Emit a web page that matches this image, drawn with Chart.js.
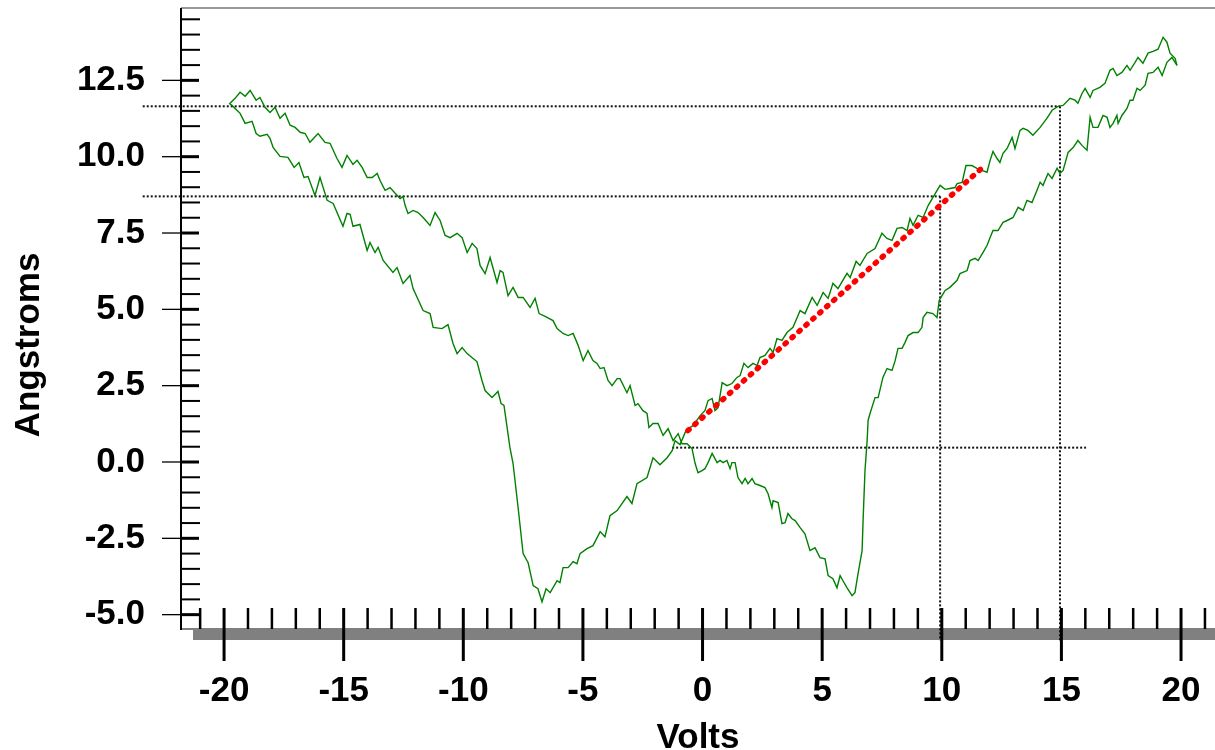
<!DOCTYPE html>
<html>
<head>
<meta charset="utf-8">
<script src="https://cdn.jsdelivr.net/npm/chart.js@4.4.1/dist/chart.umd.min.js"></script>
<style>
  html, body { margin: 0; padding: 0; background: #fff; }
  #wrap { width: 1215px; height: 750px; }
</style>
</head>
<body>
<div id="wrap"><canvas id="chart"></canvas></div>
<script>
// sweep -20 V -> +20 V
const upV = [-19.79,-19.67,-19.33,-19.12,-18.83,-18.66,-18.50,-18.20,-18.08,-17.95,
  -17.66,-17.33,-17.07,-16.87,-16.66,-16.49,-16.20,-15.99,-15.69,-15.44,
  -15.03,-14.86,-14.73,-14.61,-14.32,-14.02,-13.90,-13.69,-13.56,-13.35,
  -12.94,-12.77,-12.52,-12.23,-12.10,-11.68,-11.39,-11.26,-10.89,-10.64,
  -10.43,-10.26,-10.05,-9.84,-9.59,-9.43,-9.22,-9.09,-8.80,-8.55,
  -8.42,-8.30,-8.05,-7.92,-7.71,-7.50,-7.29,-7.08,-6.88,-6.71,
  -6.54,-6.37,-6.08,-5.96,-5.83,-5.62,-5.41,-5.25,-5.12,-4.83,
  -4.58,-4.28,-4.08,-3.87,-3.57,-3.16,-2.95,-2.74,-2.32,-2.07,
  -1.78,-1.48,-1.27,-1.15,-0.94,-0.73,-0.61,-0.40,-0.10,0.10,
  0.23,0.40,0.52,0.65,0.82,1.02,1.23,1.44,1.57,1.73,
  1.90,2.11,2.28,2.40,2.61,2.82,2.95,3.11,3.32,3.53,
  3.78,4.08,4.28,4.58,4.79,5.04,5.25,5.45,5.66,6.04,
  6.17,6.42,6.58,6.88,7.21,7.50,7.71,7.92,8.13,8.34,
  8.55,8.67,8.80,9.01,9.22,9.43,9.63,9.93,10.14,10.34,
  10.55,10.64,10.85,11.01,11.26,11.47,11.68,11.89,12.02,12.14,
  12.31,12.43,12.56,12.73,12.94,13.06,13.27,13.40,13.60,13.81,
  14.11,14.40,14.61,14.86,15.07,15.36,15.57,15.69,15.86,15.99,
  16.20,16.32,16.61,16.82,17.03,17.16,17.32,17.53,17.74,17.87,
  18.08,18.20,18.41,18.62,18.83,19.04,19.25,19.41,19.54,19.75,
  19.83];
const upA = [11.75,11.68,11.42,11.09,11.16,10.76,10.67,10.73,10.60,10.30,
  10.01,9.98,9.65,9.81,9.32,9.35,8.73,9.32,8.57,8.47,
  7.72,8.14,8.11,7.72,7.78,6.93,7.19,6.86,7.03,6.60,
  6.21,6.37,5.85,6.11,5.68,4.96,4.86,4.41,4.37,4.50,
  3.88,3.55,3.75,3.55,3.39,3.29,2.67,2.34,2.11,2.31,
  1.91,1.85,0.47,-0.05,-1.49,-3.00,-3.30,-4.05,-4.15,-4.58,
  -4.15,-4.28,-3.89,-3.95,-3.46,-3.46,-3.26,-3.33,-3.00,-2.84,
  -2.74,-2.28,-2.45,-1.76,-1.59,-1.13,-1.36,-0.71,-0.51,0.14,
  -0.09,0.14,0.37,0.70,0.57,0.96,1.09,1.19,1.52,1.68,
  2.01,2.08,1.68,1.78,2.60,2.50,2.57,2.77,2.83,3.23,
  3.09,3.23,3.16,3.42,3.49,3.72,3.59,4.04,3.98,4.24,
  4.41,4.96,4.86,5.39,5.13,5.55,5.36,5.85,5.68,6.18,
  6.04,6.57,6.44,6.83,6.99,7.49,7.32,7.26,7.65,7.68,
  7.58,7.98,7.75,8.08,8.01,8.40,8.67,9.06,8.93,8.96,
  8.99,9.12,9.16,9.71,9.71,9.62,9.55,9.49,9.88,10.17,
  9.94,9.81,10.11,10.27,10.63,10.27,10.86,10.93,10.86,10.70,
  10.96,11.26,11.52,11.65,11.68,11.91,11.85,11.75,12.07,12.24,
  11.94,12.17,12.27,12.40,12.83,12.89,12.66,12.76,12.99,12.83,
  13.09,13.25,13.06,13.39,13.45,13.52,13.91,13.75,13.39,13.22,
  12.99];

// sweep +20 V -> -20 V
const downV = [19.83,19.62,19.41,19.21,19.04,18.83,18.62,18.50,18.29,18.16,
  17.99,17.87,17.74,17.53,17.37,17.32,17.16,17.03,16.91,16.74,
  16.53,16.32,16.20,16.07,15.86,15.69,15.49,15.28,15.07,14.94,
  14.82,14.61,14.44,14.23,14.11,13.98,13.77,13.56,13.40,13.19,
  12.98,12.73,12.56,12.35,12.14,12.02,11.89,11.72,11.52,11.39,
  11.18,11.06,10.76,10.64,10.34,10.14,10.01,9.89,9.80,9.63,
  9.38,9.22,9.17,9.01,8.80,8.59,8.46,8.34,8.17,8.05,
  7.92,7.71,7.54,7.34,7.21,7.00,6.92,6.88,6.79,6.71,
  6.67,6.50,6.37,6.25,6.04,5.87,5.75,5.62,5.45,5.25,
  5.12,4.91,4.70,4.49,4.28,4.08,3.87,3.74,3.57,3.45,
  3.32,3.16,2.95,2.90,2.74,2.61,2.40,2.19,2.07,1.90,
  1.78,1.65,1.48,1.36,1.23,1.15,1.02,0.86,0.73,0.61,
  0.40,0.23,0.10,-0.02,-0.19,-0.31,-0.44,-0.65,-0.86,-1.02,
  -1.23,-1.44,-1.65,-1.86,-2.07,-2.24,-2.32,-2.49,-2.70,-2.82,
  -3.03,-3.16,-3.45,-3.57,-3.78,-3.95,-4.12,-4.28,-4.41,-4.58,
  -4.79,-4.99,-5.20,-5.41,-5.62,-5.83,-6.08,-6.25,-6.58,-6.83,
  -7.00,-7.21,-7.50,-7.71,-7.92,-8.13,-8.34,-8.46,-8.59,-8.88,
  -9.09,-9.30,-9.43,-9.63,-9.84,-10.05,-10.26,-10.55,-10.76,-10.97,
  -11.18,-11.39,-11.68,-11.89,-12.10,-12.31,-12.43,-12.52,-12.64,-12.85,
  -13.06,-13.27,-13.48,-13.60,-13.81,-14.02,-14.23,-14.44,-14.61,-14.86,
  -15.07,-15.28,-15.57,-15.78,-16.07,-16.41,-16.61,-16.82,-17.03,-17.24,
  -17.45,-17.66,-17.87,-18.08,-18.29,-18.50,-18.66,-18.91,-19.12,-19.33,
  -19.54,-19.75];
const downA = [12.99,13.25,13.09,12.66,12.93,12.76,12.73,12.34,12.17,12.24,
  11.85,11.85,11.58,11.35,11.09,11.35,11.09,10.96,11.29,11.35,
  10.96,10.96,11.29,10.21,10.37,10.53,10.30,10.14,9.55,9.45,
  9.62,9.29,9.45,9.06,9.16,8.90,8.50,8.57,8.24,8.34,
  8.01,7.91,7.85,7.58,7.58,7.35,7.09,6.86,6.60,6.67,
  6.60,6.27,6.17,5.95,5.72,5.62,5.45,5.29,4.73,4.86,
  4.90,4.73,4.41,4.24,4.24,4.14,3.91,3.72,3.72,3.32,
  3.00,3.06,2.77,2.11,2.11,1.59,1.36,0.70,-0.28,-1.92,
  -2.90,-3.66,-4.28,-4.38,-4.12,-3.89,-3.72,-4.12,-3.82,-3.72,
  -3.17,-3.13,-2.81,-2.90,-2.35,-2.15,-1.92,-1.86,-1.69,-1.99,
  -2.02,-1.33,-1.27,-1.49,-1.04,-0.84,-0.77,-0.71,-0.54,-0.71,
  -0.54,-0.71,-0.51,-0.02,-0.02,-0.22,0.05,-0.02,0.05,-0.02,
  0.28,-0.02,-0.22,-0.28,-0.35,-0.05,0.44,0.60,0.60,0.93,
  0.70,1.09,0.87,1.26,1.26,1.13,1.59,1.68,1.91,1.85,
  2.50,2.27,2.73,2.73,2.50,2.67,3.09,3.06,3.23,3.32,
  3.65,3.32,3.82,4.21,4.14,4.21,4.37,4.63,4.77,4.86,
  5.36,5.06,5.39,5.39,5.72,5.45,6.21,6.27,5.88,6.70,
  6.17,6.44,6.99,7.16,6.86,7.35,7.49,7.35,7.42,7.91,
  8.17,7.75,8.01,8.17,8.24,8.14,8.40,8.70,8.63,8.80,
  8.99,8.90,9.22,9.45,9.32,9.32,9.65,9.88,9.75,10.04,
  9.65,9.94,10.44,10.47,10.76,10.47,10.76,10.80,10.96,11.03,
  11.42,11.26,11.62,11.45,11.62,11.94,11.85,12.17,11.98,12.11,
  11.91,11.75];

// red linear fit
const fitV = [-0.61, 11.85];
const fitA = [1.03, 9.75];

// dotted guide lines
const hGuideA = [11.65, 8.70, 0.47];
const hGuideFrom = [-23.4, -23.4, -1.27];
const hGuideTo = [14.94, 9.93, 16.03];
const vGuideV = [9.93, 14.94];
const vGuideTop = [8.70, 11.65];
const vGuideBottom = -5.85;

// axis labels
const xTickValues = [-20, -15, -10, -5, 0, 5, 10, 15, 20];
const yTickValues = [-5, -2.5, 0, 2.5, 5, 7.5, 10, 12.5];
const xMinorTicks = Array.from({ length: 43 }, (_, i) => i - 21);
const yMinorTicks = Array.from({ length: 40 }, (_, i) => -5 + i * 0.5);

const FONT = "'Liberation Sans', Arial, Helvetica, sans-serif";
const toPoints = (xs, ys) => xs.map((x, i) => ({ x, y: ys[i] }));

function seg(ctx, x1, y1, x2, y2) {
  ctx.beginPath(); ctx.moveTo(x1, y1); ctx.lineTo(x2, y2); ctx.stroke();
}

const axisDecor = {
  id: "axisDecor",
  beforeDatasetsDraw(chart) {
    const { ctx, chartArea: a } = chart;
    ctx.save();
    ctx.fillStyle = "#808080";
    ctx.fillRect(a.left + 12, a.bottom + 1, a.right - a.left - 12, 10);
    ctx.strokeStyle = "#777"; ctx.lineWidth = 1.5;
    seg(ctx, a.left, a.top, a.right, a.top);
    ctx.strokeStyle = "#000"; ctx.lineWidth = 1.2;
    seg(ctx, a.left, a.bottom, a.right, a.bottom);
    ctx.lineWidth = 2;
    seg(ctx, a.left, a.top, a.left, a.bottom + 1);
    ctx.restore();
  },
  afterDatasetsDraw(chart) {
    const { ctx, chartArea: a, scales: { x, y } } = chart;
    ctx.save();
    ctx.strokeStyle = "#000";
    xMinorTicks.forEach(v => {
      const px = x.getPixelForValue(v);
      const major = v % 5 === 0;
      ctx.lineWidth = major ? 3 : 2.5;
      seg(ctx, px, a.bottom - 21, px, major ? a.bottom + 32 : a.bottom);
    });
    yMinorTicks.forEach(v => {
      const py = y.getPixelForValue(v);
      const major = Math.abs(v / 2.5 - Math.round(v / 2.5)) < 1e-6;
      if (major) {
        ctx.lineWidth = 1.3; seg(ctx, a.left - 19, py, a.left, py);
        ctx.lineWidth = 3; seg(ctx, a.left, py, a.left + 18, py);
      } else {
        ctx.lineWidth = 2; seg(ctx, a.left, py, a.left + 19, py);
      }
    });
    // y title, drawn by hand so it can sit lower than the axis centre
    ctx.fillStyle = "#000";
    ctx.font = "bold 35px " + FONT;
    ctx.textAlign = "center";
    ctx.textBaseline = "alphabetic";
    ctx.translate(39, 345);
    ctx.rotate(-Math.PI / 2);
    ctx.fillText("Angstroms", 0, 0);
    ctx.restore();
  }
};

const datasets = [
  {
    data: toPoints(fitV, fitA), showLine: true, borderColor: "#ff0000",
    borderWidth: 5.5, borderDash: [1.5, 7.8], borderCapStyle: "round"
  },
  { data: toPoints(upV, upA), showLine: true, borderColor: "#008000", borderWidth: 1.4 },
  { data: toPoints(downV, downA), showLine: true, borderColor: "#008000", borderWidth: 1.4 }
];
hGuideA.forEach((a, i) => datasets.push({
  data: [{ x: hGuideFrom[i], y: a }, { x: hGuideTo[i], y: a }],
  showLine: true, borderColor: "#111", borderWidth: 2, borderDash: [2, 2], clip: false
}));
vGuideV.forEach((v, i) => datasets.push({
  data: [{ x: v, y: vGuideTop[i] }, { x: v, y: vGuideBottom }],
  showLine: true, borderColor: "#111", borderWidth: 2, borderDash: [2, 2], clip: false
}));

new Chart(document.getElementById("chart"), {
  type: "scatter",
  data: { datasets },
  plugins: [axisDecor],
  options: {
    responsive: true,
    maintainAspectRatio: false,
    animation: false,
    events: [],
    layout: { padding: { top: 8, left: 0, right: 0, bottom: 0 } },
    elements: { point: { radius: 0 }, line: { tension: 0 } },
    plugins: { legend: { display: false }, tooltip: { enabled: false } },
    scales: {
      x: {
        type: "linear", min: -21.8, max: 21.42,
        afterFit(s) { s.height = 121; },
        afterBuildTicks(s) { s.ticks = xTickValues.map(value => ({ value })); },
        grid: { display: false, drawTicks: true, tickLength: 45 },
        border: { display: false },
        ticks: {
          padding: 0, maxRotation: 0, autoSkip: false, color: "#000",
          font: { family: FONT, size: 35, weight: "bold", lineHeight: 1 },
          callback: v => v.toFixed(0)
        },
        title: {
          display: true, text: "Volts", color: "#000",
          font: { family: FONT, size: 35, weight: "bold", lineHeight: 1 },
          padding: { top: 0, bottom: -6 }
        }
      },
      y: {
        type: "linear", min: -5.47, max: 14.87,
        afterFit(s) { s.width = 181; },
        afterBuildTicks(s) { s.ticks = yTickValues.map(value => ({ value })); },
        grid: { display: false, drawTicks: true, tickLength: 36 },
        border: { display: false },
        ticks: {
          padding: 0, autoSkip: false, color: "#000",
          font: { family: FONT, size: 35, weight: "bold", lineHeight: 0.4 },
          callback: v => v.toFixed(1)
        }
      }
    }
  }
});
</script>
</body>
</html>
